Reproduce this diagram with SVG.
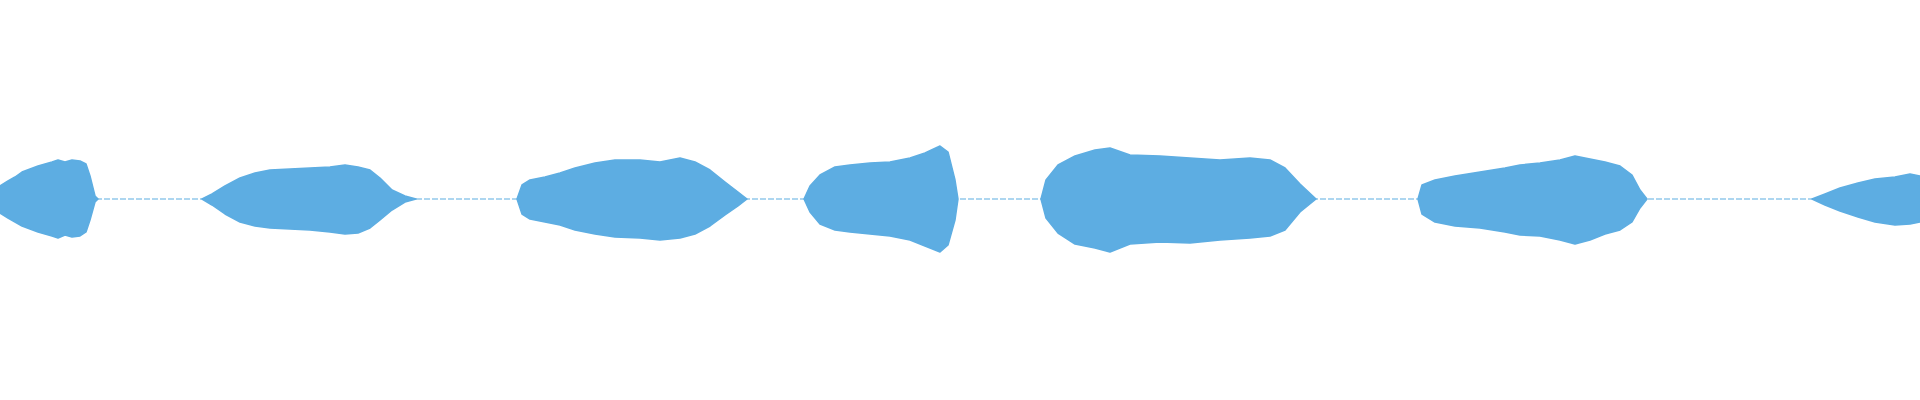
<svg xmlns="http://www.w3.org/2000/svg" width="1920" height="400" viewBox="0 0 1920 400">
<style>.w{fill:#5dade2;stroke:#5dade2;stroke-width:1.5;stroke-linejoin:round}.c{stroke:#5dade2;stroke-width:1.2;stroke-dasharray:6 2}</style>
<rect width="1920" height="400" fill="#fff"/>
<line class="c" x1="0" y1="199" x2="1920" y2="199"/>
<path class="w" d="M0 186 L8 181 L15 177 L22 172 L30 169 L38 166 L45 164 L52 162 L58 160 L65 162 L72 160 L80 161 L86 164 L90 176 L95 196 L98 199 L95 202 L90 220 L86 232 L80 236 L72 237 L65 235 L58 238 L52 236 L45 234 L38 232 L30 229 L22 226 L15 222 L8 218 L0 213 Z"/>
<path class="w" d="M202 199 L212 194 L225 186 L240 178 L255 173 L270 170 L290 169 L310 168 L330 167 L345 165 L358 167 L370 170 L380 178 L392 190 L405 196 L416 199 L405 202 L392 210 L380 220 L370 228 L358 233 L345 234 L330 232 L310 230 L290 229 L270 228 L255 226 L240 222 L225 214 L212 205 Z"/>
<path class="w" d="M517 199 L522 185 L530 180 L545 177 L560 173 L575 168 L595 163 L615 160 L640 160 L660 162 L680 158 L695 162 L710 170 L725 182 L738 192 L747 199 L738 206 L725 215 L710 226 L695 234 L680 238 L660 240 L640 238 L615 237 L595 234 L575 230 L560 225 L545 222 L530 219 L522 214 Z"/>
<path class="w" d="M804 199 L810 186 L820 175 L835 167 L850 165 L870 163 L890 162 L910 158 L925 153 L940 146 L948 152 L955 180 L958 199 L955 220 L948 245 L940 252 L925 246 L910 240 L890 236 L870 234 L850 232 L835 230 L820 224 L810 212 Z"/>
<path class="w" d="M1041 199 L1046 180 L1058 165 L1075 156 L1095 150 L1110 148 L1130 155 L1160 156 L1190 158 L1220 160 L1250 158 L1270 160 L1285 168 L1300 184 L1316 199 L1300 212 L1285 230 L1270 236 L1250 238 L1220 240 L1190 243 L1160 242 L1130 244 L1110 252 L1095 248 L1075 244 L1058 233 L1046 218 Z"/>
<path class="w" d="M1418 199 L1422 185 L1435 180 L1455 176 L1480 172 L1505 168 L1520 165 L1540 163 L1560 160 L1575 156 L1590 159 L1605 162 L1620 166 L1632 175 L1640 190 L1647 199 L1640 208 L1632 222 L1620 230 L1605 234 L1590 240 L1575 244 L1560 240 L1540 236 L1520 235 L1505 232 L1480 228 L1455 226 L1435 222 L1422 214 Z"/>
<path class="w" d="M1812 199 L1825 194 L1840 188 L1858 183 L1875 179 L1895 177 L1910 174 L1920 176 L1920 222 L1910 224 L1895 225 L1875 222 L1858 217 L1840 211 L1825 205 Z"/>
</svg>
